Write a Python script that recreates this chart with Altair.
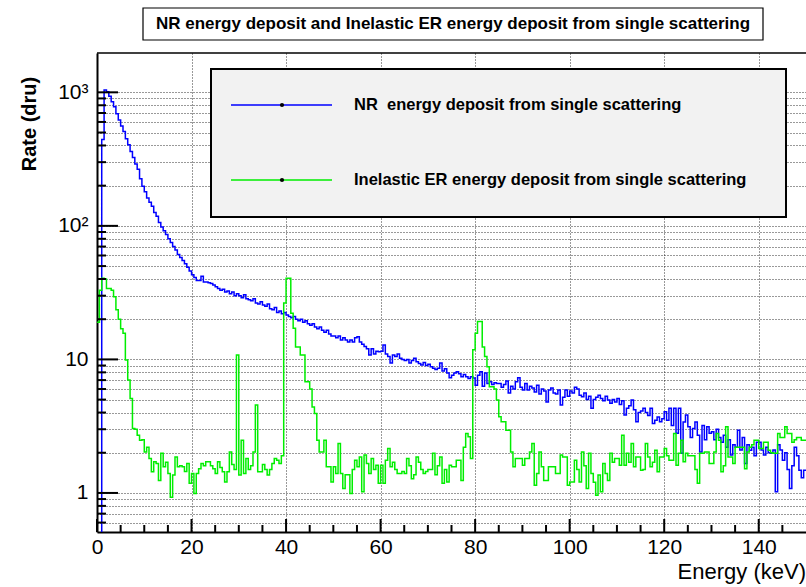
import altair as alt
import pandas as pd

FONT = "Liberation Sans"
TITLE = "NR energy deposit and Inelastic ER energy deposit from single scattering"
SERIES = ["NR \u00a0energy deposit from single scattering",
          "Inelastic ER energy deposit from single scattering"]
COLORS = ["#0000ff", "#00ee00"]
X_TITLE = "Energy (keV)"
Y_TITLE = "Rate (dru)"
BIN_WIDTH = 0.5
X_MAX = 150

# NR energy deposit, 0.5 keV bins from 0 to 150 keV (one row = 5 keV)
NR = [
    0, 0, 443, 1040, 1010, 935, 850, 780, 690, 620,
    560, 510, 450, 405, 360, 325, 290, 265, 225, 198,
    180, 162, 150, 140, 126, 118, 106, 98, 92, 86,
    80, 75, 70, 66, 61, 58, 55, 52, 49, 46,
    43, 41, 39, 39, 42, 38, 38, 37.5, 37, 36,
    35, 34, 33, 33.5, 32, 32.5, 31, 32, 30, 31,
    30, 29, 30.5, 28.5, 28, 27.5, 28.5, 26.5, 26, 27,
    25.5, 25, 26, 24, 23.5, 24.5, 22.5, 23, 22, 22.5,
    21.5, 21, 20.5, 21, 20, 19.5, 20, 19, 19.5, 18.5,
    18, 18.5, 17.5, 17, 17.5, 16.5, 16, 16.5, 15.5, 15,
    15, 14.5, 15, 14, 14.5, 14, 13.5, 14, 13.5, 14.5,
    14.8, 13.5, 13, 12.5, 12, 10.8, 12, 11, 11.5, 11.4,
    11.5, 12.8, 11, 10.5, 9.4, 10.8, 10.5, 11, 10.2, 10,
    9.8, 10, 9.4, 9.8, 10.2, 9.6, 9.3, 9.1, 9.5, 9.0,
    9.2, 8.8, 8.6, 8.4, 8.6, 9.4, 8.2, 8.5, 7.9, 7.3,
    7.6, 7.9, 8.1, 7.8, 7.4, 7.7, 7.4, 7.2, 7.4, 7.25,
    6.4, 7.6, 8.1, 6.3, 7.9, 6.6, 6.8, 6.5, 6.7, 6.6,
    6.6, 6.2, 6.5, 6.9, 5.6, 6.3, 6.0, 6.8, 7.3, 6.2,
    5.9, 6.6, 5.9, 6.3, 6.1, 5.7, 6.4, 5.5, 6.0, 5.8,
    4.8, 5.9, 6.1, 5.6, 5.5, 5.9, 4.55, 5.2, 5.9, 5.3,
    5.8, 5.6, 6.2, 6.0, 5.4, 5.25, 5.6, 5.0, 5.3, 4.3,
    5.0, 5.2, 5.4, 5.1, 4.9, 5.3, 4.96, 4.7, 5.0, 4.8,
    5.1, 4.6, 4.9, 3.83, 4.3, 4.5, 4.96, 4.2, 3.41, 4.0,
    4.1, 4.3, 4.0, 3.8, 4.3, 3.31, 3.5, 3.7, 3.41, 3.6,
    4.05, 3.5, 4.3, 3.2, 4.3, 2.8, 4.3, 1.98, 3.4, 3.83,
    3.13, 2.6, 3.04, 3.4, 2.7, 2.03, 3.2, 2.5, 3.13, 2.8,
    2.87, 2.5, 3.0, 2.6, 2.4, 2.7, 2.2, 2.5, 1.92, 2.3,
    2.2, 2.95, 2.1, 2.6, 1.66, 2.3, 2.09, 2.2, 1.9, 2.4,
    2.4, 2.1, 1.92, 2.2, 2.0, 1.98, 2.1, 1.02, 2.3, 2.1,
    1.76, 2.0, 1.5, 1.08, 1.6, 2.2, 1.9, 1.48, 1.3, 1.48,
]

# Inelastic ER energy deposit, same binning
ER = [
    19, 33, 40.6, 40, 34, 34, 33, 29.5, 23.5, 20,
    17, 15.7, 9.9, 7.0, 5.1, 3.04, 3.0, 2.7, 2.48, 2.5,
    2.03, 2.2, 1.81, 1.44, 1.71, 1.66, 1.24, 1.98, 1.57, 1.7,
    1.4, 0.93, 1.36, 1.86, 1.57, 1.6, 1.57, 1.45, 1.66, 1.18,
    1.4, 0.99, 1.4, 1.52, 1.66, 1.6, 1.71, 1.71, 1.6, 1.52,
    1.4, 1.71, 1.55, 1.44, 1.21, 1.44, 2.03, 1.63, 1.5, 10.8,
    1.36, 2.48, 1.4, 1.81, 1.5, 1.6, 2.03, 4.55, 1.44, 1.44,
    1.63, 1.5, 1.36, 1.5, 1.66, 1.81, 1.76, 1.66, 1.9, 26.5,
    40.6, 40.6, 22.2, 17.1, 12.4, 12.4, 10.8, 10.8, 6.8, 6.8,
    6.0, 4.4, 3.94, 2.48, 2.03, 2.03, 2.48, 1.57, 1.57, 1.21,
    1.57, 1.4, 2.35, 1.4, 1.08, 1.37, 1.37, 0.99, 1.5, 1.76,
    1.57, 1.86, 1.02, 1.92, 1.66, 1.4, 1.81, 1.5, 1.61, 1.18,
    1.61, 1.18, 1.76, 2.15, 1.57, 1.7, 1.5, 1.4, 1.4, 1.45,
    1.4, 1.81, 1.6, 1.28, 1.37, 1.86, 1.7, 1.5, 1.4, 1.45,
    1.5, 1.5, 1.98, 1.37, 1.6, 1.86, 1.18, 1.5, 1.21, 1.61,
    1.57, 1.57, 1.76, 1.76, 1.24, 2.2, 2.79, 2.63, 1.81, 11.8,
    15.7, 19.2, 19.2, 12.4, 10.5, 8.8, 6.24, 6.24, 6.0, 4.96,
    3.72, 3.41, 3.41, 2.95, 2.95, 2.03, 1.57, 1.81, 1.81, 1.81,
    1.61, 1.81, 1.81, 2.03, 2.35, 1.14, 1.4, 2.03, 1.57, 1.24,
    1.24, 1.57, 1.57, 1.57, 1.4, 1.4, 1.92, 1.86, 1.86, 1.14,
    1.21, 1.21, 1.76, 1.5, 1.21, 2.03, 1.6, 1.08, 1.98, 1.4,
    1.2, 0.96, 1.36, 1.02, 1.66, 1.4, 1.24, 1.98, 1.7, 1.81,
    1.81, 1.61, 2.71, 1.61, 1.98, 1.7, 2.35, 1.57, 1.86, 1.86,
    1.48, 1.5, 2.35, 1.86, 1.57, 1.7, 2.09, 1.44, 1.86, 1.86,
    2.15, 1.9, 1.76, 1.76, 2.79, 1.61, 1.98, 2.48, 1.71, 1.98,
    1.9, 1.9, 1.9, 1.5, 1.18, 1.98, 1.98, 2.03, 2.03, 1.66,
    1.66, 2.03, 2.79, 2.48, 1.44, 1.6, 3.13, 1.86, 1.86, 1.66,
    2.2, 2.2, 2.2, 2.2, 1.52, 2.03, 2.2, 2.3, 2.48, 2.48,
    2.15, 2.15, 2.4, 2.4, 2.09, 2.0, 1.98, 1.98, 2.79, 2.6,
    2.6, 3.13, 2.79, 2.79, 2.4, 2.5, 2.6, 2.6, 2.48, 2.48,
]

X_MAJOR = [0, 20, 40, 60, 80, 100, 120, 140]
X_MINOR = [5, 10, 15, 25, 30, 35, 45, 50, 55, 65, 70, 75, 85, 90, 95,
           105, 110, 115, 125, 130, 135, 145]
Y_MAJOR = [1, 10, 100, 1000]
Y_MINOR = [0.6, 0.7, 0.8, 0.9, 2, 3, 4, 5, 6, 7, 8, 9,
           20, 30, 40, 50, 60, 70, 80, 90, 200, 300, 400, 500, 600, 700, 800, 900]
Y_DOMAIN = [0.51, 1970]

W, H = 709, 479


def hist_frame(values):
    xs = [i * BIN_WIDTH for i in range(len(values))] + [X_MAX]
    ys = [v if v > 0 else 1e-3 for v in values] + [values[-1]]
    return pd.DataFrame({"energy": xs, "rate": ys})


xscale = alt.Scale(domain=[0, X_MAX], nice=False, zero=False)
yscale = alt.Scale(type="log", domain=Y_DOMAIN, nice=False)

xaxis = alt.Axis(values=X_MAJOR, grid=True, gridDash=[1, 2], gridColor="#000",
                 gridOpacity=0.8, gridWidth=1, ticks=False, domainColor="#000",
                 domainWidth=2, labelFont=FONT, labelFontSize=21, labelColor="#000",
                 labelPadding=4, title=None, labelFlush=False, labelOverlap=False)
yaxis = alt.Axis(values=Y_MAJOR + Y_MINOR, grid=True, gridDash=[1, 2], gridColor="#000",
                 gridOpacity=0.8, gridWidth=1, ticks=False, domainColor="#000",
                 domainWidth=2, labelFont=FONT, labelFontSize=21, labelColor="#000",
                 labelPadding=9, title=None, labelOverlap=False, labelFlush=False,
                 labelExpr="datum.value == 1000 ? '10³' : datum.value == 100 ? '10²' : "
                           "datum.value == 10 ? '10' : datum.value == 1 ? '1' : ''")

X = alt.X("energy:Q", scale=xscale, axis=xaxis)
Y = alt.Y("rate:Q", scale=yscale, axis=yaxis)

layers = []
for vals, col in zip([NR, ER], COLORS):
    layers.append(
        alt.Chart(hist_frame(vals)).mark_line(
            interpolate="step-after", strokeWidth=1.5, color=col, clip=True
        ).encode(x=X, y=Y)
    )


# tick marks pointing inward
def yticks(vals, length, width):
    return alt.Chart(pd.DataFrame({"rate": vals})).mark_rule(
        color="#000", strokeWidth=width).encode(
        y=Y, x=alt.value(0), x2=alt.value(length))


def xticks(vals, length, width):
    return alt.Chart(pd.DataFrame({"energy": vals})).mark_rule(
        color="#000", strokeWidth=width).encode(
        x=X, y=alt.value(H), y2=alt.value(H - length))


layers += [yticks(Y_MAJOR, 21, 2), yticks(Y_MINOR, 9, 2),
           xticks(X_MAJOR, 13, 2), xticks(X_MINOR, 7, 2)]

one = pd.DataFrame({"k": [0]})
# top frame line
layers.append(alt.Chart(one).mark_rule(color="#000", strokeWidth=1.5).encode(
    x=alt.value(0), x2=alt.value(W), y=alt.value(0)))

# legend
layers.append(alt.Chart(one).mark_rect(fill="#f2f2f2", stroke="#000", strokeWidth=2).encode(
    x=alt.value(114), x2=alt.value(689), y=alt.value(16), y2=alt.value(164)))
for label, col, ypos in zip(SERIES, COLORS, [52, 127]):
    layers.append(alt.Chart(one).mark_rule(color=col, strokeWidth=1.5).encode(
        x=alt.value(134), x2=alt.value(235), y=alt.value(ypos)))
    layers.append(alt.Chart(one).mark_point(filled=True, color="#000", size=18, opacity=1).encode(
        x=alt.value(185), y=alt.value(ypos)))
    layers.append(alt.Chart(pd.DataFrame({"t": [label]})).mark_text(
        font=FONT, fontSize=16.5, fontWeight="bold", align="left", baseline="middle",
        color="#000").encode(x=alt.value(257), y=alt.value(ypos), text="t:N"))

# title box
layers.append(alt.Chart(one).mark_rect(fill="#fff", stroke="#000", strokeWidth=1.2).encode(
    x=alt.value(46), x2=alt.value(666), y=alt.value(-45), y2=alt.value(-13)))
layers.append(alt.Chart(pd.DataFrame({"t": [TITLE]})).mark_text(
    font=FONT, fontSize=17, fontWeight="bold", align="center", baseline="middle",
    color="#000").encode(x=alt.value(356), y=alt.value(-29), text="t:N"))

# axis titles
layers.append(alt.Chart(pd.DataFrame({"t": [Y_TITLE]})).mark_text(
    font=FONT, fontSize=20, fontWeight="bold", align="center", baseline="middle",
    angle=270, color="#000").encode(x=alt.value(-67), y=alt.value(71), text="t:N"))
layers.append(alt.Chart(pd.DataFrame({"t": [X_TITLE]})).mark_text(
    font=FONT, fontSize=22, align="right", baseline="alphabetic",
    color="#000").encode(x=alt.value(W), y=alt.value(526), text="t:N"))

chart = alt.layer(*layers).properties(
    width=W, height=H,
    autosize=alt.AutoSizeParams(type="none"),
    padding={"left": 97, "top": 53, "right": 0, "bottom": 55},
    background="white",
).configure_view(stroke=None)

chart.save("out.html", embed_options={"renderer": "svg", "actions": False})
